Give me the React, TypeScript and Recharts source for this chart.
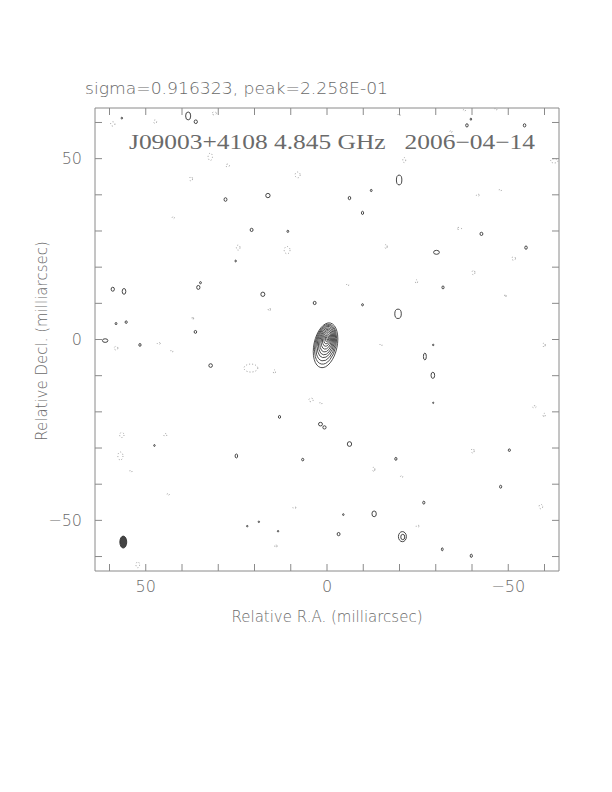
import React from "react";
import { ScatterChart, Scatter, XAxis, YAxis } from "recharts";

// axis ticks (milliarcsec), labels only on multiples of 50
const TICKS = [-60, -50, -40, -30, -20, -10, 0, 10, 20, 30, 40, 50, 60];
const DOMAIN: [number, number] = [-64, 64];

// central source contours, outermost first (mas)
const CORE_PA = 12;
const coreLevels = [
  { x: 0.4, y: -1.6, rx: 3.2, ry: 6.3 },
  { x: 0.4, y: -1.3, rx: 2.9, ry: 5.6 },
  { x: 0.35, y: -1.0, rx: 2.6, ry: 5.0 },
  { x: 0.3, y: -0.7, rx: 2.3, ry: 4.4 },
  { x: 0.25, y: -0.5, rx: 2.0, ry: 3.8 },
  { x: 0.2, y: -0.3, rx: 1.7, ry: 3.2 },
  { x: 0.15, y: -0.1, rx: 1.4, ry: 2.6 },
  { x: 0.1, y: 0.1, rx: 1.1, ry: 2.0 },
  { x: 0.05, y: 0.2, rx: 0.8, ry: 1.4 },
  { x: 0.0, y: 0.3, rx: 0.5, ry: 0.9 },
  { x: 0.0, y: 0.3, rx: 0.25, ry: 0.5 },
];

// small positive noise contours
const posBlobs = [
  { x: 38.3, y: 61.8, rx: 0.7, ry: 1.1 },
  { x: 36.2, y: 60.2, rx: 0.45, ry: 0.5 },
  { x: 56.6, y: 61.2, rx: 0.2, ry: 0.25 },
  { x: -38.6, y: 59.2, rx: 0.35, ry: 0.45 },
  { x: -39.7, y: 60.9, rx: 0.2, ry: 0.3 },
  { x: -54.5, y: 59.2, rx: 0.35, ry: 0.45 },
  { x: -19.9, y: 44.1, rx: 0.75, ry: 1.35 },
  { x: 16.3, y: 39.8, rx: 0.6, ry: 0.6 },
  { x: 28.0, y: 38.7, rx: 0.4, ry: 0.5 },
  { x: -6.2, y: 39.1, rx: 0.35, ry: 0.45 },
  { x: -12.2, y: 41.2, rx: 0.25, ry: 0.3 },
  { x: -9.8, y: 35.0, rx: 0.3, ry: 0.45 },
  { x: 20.8, y: 30.3, rx: 0.4, ry: 0.45 },
  { x: 10.8, y: 29.9, rx: 0.25, ry: 0.3 },
  { x: -42.6, y: 29.2, rx: 0.4, ry: 0.45 },
  { x: -30.2, y: 24.1, rx: 0.8, ry: 0.55 },
  { x: -54.9, y: 25.4, rx: 0.35, ry: 0.45 },
  { x: 25.2, y: 21.7, rx: 0.2, ry: 0.25 },
  { x: 35.5, y: 14.4, rx: 0.45, ry: 0.55 },
  { x: 34.9, y: 15.7, rx: 0.25, ry: 0.3 },
  { x: 59.1, y: 13.9, rx: 0.45, ry: 0.55 },
  { x: 56.0, y: 13.3, rx: 0.5, ry: 0.8 },
  { x: 17.7, y: 12.5, rx: 0.55, ry: 0.6 },
  { x: -32.0, y: 14.4, rx: 0.3, ry: 0.4 },
  { x: 3.4, y: 10.1, rx: 0.4, ry: 0.45 },
  { x: -9.8, y: 9.6, rx: 0.25, ry: 0.3 },
  { x: -19.6, y: 7.1, rx: 0.9, ry: 1.3 },
  { x: 58.2, y: 4.4, rx: 0.25, ry: 0.3 },
  { x: 55.4, y: 4.8, rx: 0.3, ry: 0.35 },
  { x: 36.3, y: 2.1, rx: 0.35, ry: 0.4 },
  { x: 61.2, y: -0.3, rx: 0.75, ry: 0.5 },
  { x: 51.6, y: -1.5, rx: 0.3, ry: 0.4 },
  { x: -29.3, y: -1.5, rx: 0.2, ry: 0.2 },
  { x: -27.0, y: -4.7, rx: 0.4, ry: 0.95 },
  { x: 32.1, y: -7.2, rx: 0.5, ry: 0.5 },
  { x: -29.2, y: -9.9, rx: 0.5, ry: 0.85 },
  { x: 13.1, y: -21.4, rx: 0.3, ry: 0.4 },
  { x: 1.8, y: -23.4, rx: 0.55, ry: 0.5 },
  { x: 0.7, y: -24.3, rx: 0.45, ry: 0.45 },
  { x: -6.2, y: -28.9, rx: 0.6, ry: 0.65 },
  { x: 25.0, y: -32.2, rx: 0.35, ry: 0.55 },
  { x: 6.7, y: -33.2, rx: 0.3, ry: 0.35 },
  { x: -19.0, y: -33.0, rx: 0.3, ry: 0.4 },
  { x: -50.3, y: -30.6, rx: 0.3, ry: 0.35 },
  { x: -47.9, y: -40.7, rx: 0.3, ry: 0.4 },
  { x: -26.7, y: -45.1, rx: 0.3, ry: 0.4 },
  { x: -13.0, y: -48.2, rx: 0.6, ry: 0.8 },
  { x: -4.5, y: -48.4, rx: 0.2, ry: 0.25 },
  { x: -3.2, y: -53.8, rx: 0.4, ry: 0.45 },
  { x: -20.8, y: -54.5, rx: 1.1, ry: 1.4 },
  { x: -20.9, y: -54.6, rx: 0.55, ry: 0.75 },
  { x: -31.8, y: -58.0, rx: 0.25, ry: 0.4 },
  { x: -39.8, y: -59.8, rx: 0.3, ry: 0.45 },
  { x: 22.0, y: -51.6, rx: 0.2, ry: 0.2 },
  { x: 18.8, y: -50.4, rx: 0.2, ry: 0.2 },
  { x: 13.5, y: -53.0, rx: 0.2, ry: 0.2 },
  { x: 47.6, y: -29.3, rx: 0.2, ry: 0.25 },
  { x: -29.3, y: -17.5, rx: 0.15, ry: 0.2 },
];

// negative contours (dotted)
const negBlobs = [
  { x: 59.1, y: 59.6, rx: 0.6, ry: 0.6 },
  { x: 47.4, y: 60.2, rx: 0.4, ry: 0.5 },
  { x: 31.1, y: 62.5, rx: 0.6, ry: 0.4 },
  { x: 32.2, y: 50.5, rx: 0.6, ry: 1.0 },
  { x: 27.4, y: 48.1, rx: 0.5, ry: 0.4 },
  { x: 37.5, y: 44.4, rx: 0.4, ry: 0.6 },
  { x: 42.4, y: 33.7, rx: 0.3, ry: 0.3 },
  { x: 8.1, y: 45.5, rx: 0.7, ry: 0.8 },
  { x: -21.3, y: 49.6, rx: 0.4, ry: 0.7 },
  { x: -62.7, y: 49.4, rx: 1.0, ry: 0.6 },
  { x: -41.6, y: 39.9, rx: 0.4, ry: 0.3 },
  { x: -47.8, y: 41.3, rx: 0.3, ry: 0.3 },
  { x: 24.5, y: 25.4, rx: 0.5, ry: 0.7 },
  { x: 11.0, y: 24.7, rx: 0.8, ry: 1.0 },
  { x: -16.3, y: 25.7, rx: 0.3, ry: 0.6 },
  { x: -36.5, y: 30.7, rx: 0.6, ry: 0.3 },
  { x: -51.5, y: 22.4, rx: 0.5, ry: 0.5 },
  { x: -40.4, y: 18.5, rx: 0.4, ry: 0.6 },
  { x: -24.7, y: 16.0, rx: 0.3, ry: 0.5 },
  { x: -49.2, y: 12.1, rx: 0.2, ry: 0.4 },
  { x: -5.7, y: 15.1, rx: 0.3, ry: 0.3 },
  { x: 15.9, y: 8.3, rx: 0.3, ry: 0.4 },
  { x: 37.0, y: 5.9, rx: 0.2, ry: 0.4 },
  { x: 58.2, y: -2.4, rx: 0.5, ry: 0.5 },
  { x: 46.4, y: -1.1, rx: 0.4, ry: 0.3 },
  { x: 42.8, y: -3.2, rx: 0.3, ry: 0.3 },
  { x: 21.0, y: -7.9, rx: 1.9, ry: 1.1 },
  { x: 14.5, y: -8.9, rx: 0.3, ry: 0.5 },
  { x: 4.4, y: -16.7, rx: 0.6, ry: 0.5 },
  { x: 1.7, y: -17.6, rx: 0.3, ry: 0.3 },
  { x: -14.9, y: -1.5, rx: 0.3, ry: 0.3 },
  { x: -59.9, y: -1.5, rx: 0.3, ry: 0.6 },
  { x: -57.2, y: -18.6, rx: 0.5, ry: 0.3 },
  { x: -59.9, y: -20.9, rx: 0.3, ry: 0.5 },
  { x: 56.6, y: -26.4, rx: 0.6, ry: 0.7 },
  { x: 57.0, y: -32.2, rx: 0.7, ry: 1.1 },
  { x: 54.1, y: -36.4, rx: 0.3, ry: 0.3 },
  { x: 44.6, y: -26.4, rx: 0.4, ry: 0.4 },
  { x: 43.8, y: -42.8, rx: 0.3, ry: 0.3 },
  { x: 52.2, y: -62.3, rx: 0.5, ry: 0.8 },
  { x: 14.1, y: -57.1, rx: 0.3, ry: 0.4 },
  { x: 9.0, y: -46.5, rx: 0.4, ry: 0.3 },
  { x: -12.9, y: -35.9, rx: 0.3, ry: 0.6 },
  { x: -20.6, y: -37.9, rx: 0.3, ry: 0.3 },
  { x: -40.2, y: -30.8, rx: 0.4, ry: 0.6 },
  { x: -25.0, y: -51.6, rx: 0.4, ry: 0.3 },
  { x: -59.0, y: -46.2, rx: 0.5, ry: 0.6 },
  { x: -34.2, y: 57.5, rx: 0.3, ry: 0.3 },
  { x: -37.9, y: 63.4, rx: 0.3, ry: 0.3 },
  { x: -46.6, y: 63.7, rx: 0.3, ry: 0.3 },
  { x: -19.9, y: 62.1, rx: 0.3, ry: 0.3 },
];

// restoring beam, bottom-left corner
const beam = [{ x: 56.2, y: -56.0, rx: 0.95, ry: 1.65 }];

const W = 612;
const H = 792;
const AX = 1; // thickness given to each axis band
const MARGIN = { top: 108 - AX, right: 53 - AX, bottom: 221 - AX, left: 95 - AX };
const PX_X = (W - 95 - 53) / (DOMAIN[1] - DOMAIN[0]);
const PX_Y = (H - 108 - 221) / (DOMAIN[1] - DOMAIN[0]);

const FRAME = "#8a8a8a";
const TEXT = "#6a6a6a";
const FONT = "'DejaVu Sans', sans-serif";
const TICK_LEN = 7;

const fmt = (v: number) => (v < 0 ? "\u2212" + Math.abs(v) : String(v));
const labelled = (v: number) => v % 50 === 0;

const BottomTick = (p: any) => (
  <g>
    <line x1={p.x} y1={p.y} x2={p.x} y2={p.y - TICK_LEN} stroke={FRAME} />
    {labelled(p.payload.value) && (
      <text x={p.x} y={p.y + 21} textAnchor="middle" fontSize={16} fontWeight={200} fill={TEXT} fontFamily={FONT}>
        {fmt(p.payload.value)}
      </text>
    )}
  </g>
);
const TopTick = (p: any) => <line x1={p.x} y1={p.y} x2={p.x} y2={p.y + TICK_LEN} stroke={FRAME} />;
const LeftTick = (p: any) => (
  <g>
    <line x1={p.x} y1={p.y} x2={p.x + TICK_LEN} y2={p.y} stroke={FRAME} />
    {labelled(p.payload.value) && (
      <text x={p.x - 13} y={p.y} dy="0.36em" textAnchor="end" fontSize={16} fontWeight={200} fill={TEXT} fontFamily={FONT}>
        {fmt(p.payload.value)}
      </text>
    )}
  </g>
);
const RightTick = (p: any) => <line x1={p.x} y1={p.y} x2={p.x - TICK_LEN} y2={p.y} stroke={FRAME} />;

const ellipse = (stroke: string, opts: { dash?: string; fill?: string; pa?: number; width?: number }) => (p: any) => {
  const d = p.payload;
  return (
    <ellipse
      cx={p.cx}
      cy={p.cy}
      rx={d.rx * PX_X}
      ry={d.ry * PX_Y}
      transform={opts.pa ? `rotate(${opts.pa} ${p.cx} ${p.cy})` : undefined}
      fill={opts.fill ?? "none"}
      stroke={stroke}
      strokeWidth={opts.width ?? 0.9}
      strokeDasharray={opts.dash}
    />
  );
};

const axisCommon = {
  type: "number" as const,
  domain: DOMAIN,
  allowDataOverflow: true,
  ticks: TICKS,
  interval: 0 as const,
  tickSize: 0,
  tickMargin: 0,
  tickLine: false,
  axisLine: { stroke: FRAME },
};

export default function App() {
  return (
    <div style={{ position: "absolute", left: 0, top: 0, width: W, height: H, background: "#fff" }}>
      <ScatterChart width={W} height={H} margin={MARGIN}>
        <XAxis xAxisId="b" dataKey="x" reversed height={AX} {...axisCommon} tick={<BottomTick />} />
        <XAxis xAxisId="t" orientation="top" dataKey="x" reversed height={AX} {...axisCommon} tick={<TopTick />} />
        <YAxis yAxisId="l" dataKey="y" width={AX} {...axisCommon} tick={<LeftTick />} />
        <YAxis yAxisId="r" orientation="right" dataKey="y" width={AX} {...axisCommon} tick={<RightTick />} />
        <Scatter xAxisId="b" yAxisId="l" data={negBlobs} isAnimationActive={false}
          shape={ellipse("#9a9a9a", { dash: "1 2", width: 1 })} />
        <Scatter xAxisId="b" yAxisId="l" data={posBlobs} isAnimationActive={false}
          shape={ellipse("#333", {})} />
        <Scatter xAxisId="b" yAxisId="l" data={coreLevels} isAnimationActive={false}
          shape={ellipse("#333", { pa: CORE_PA, width: 0.8 })} />
        <Scatter xAxisId="b" yAxisId="l" data={beam} isAnimationActive={false}
          shape={ellipse("#333", { fill: "#444" })} />
        <text x={85} y={94} fontSize={15} fontWeight={200} fill={TEXT} fontFamily={FONT} textLength={303} lengthAdjust="spacingAndGlyphs">
          sigma=0.916323, peak=2.258E-01
        </text>
        <text x={129} y={149} fontSize={21} fill={TEXT} fontFamily="'Liberation Serif', serif" textLength={406} lengthAdjust="spacingAndGlyphs" style={{ whiteSpace: "pre" }}>
          {"J09003+4108 4.845 GHz   2006\u221204\u221214"}
        </text>
        <text x={327} y={622} textAnchor="middle" fontSize={15} fontWeight={200} fill={TEXT} fontFamily={FONT}>
          Relative R.A. (milliarcsec)
        </text>
        <text x={47} y={341} transform="rotate(-90 47 341)" textAnchor="middle" fontSize={15} fontWeight={200} fill={TEXT} fontFamily={FONT}>
          Relative Decl. (milliarcsec)
        </text>
      </ScatterChart>
    </div>
  );
}
